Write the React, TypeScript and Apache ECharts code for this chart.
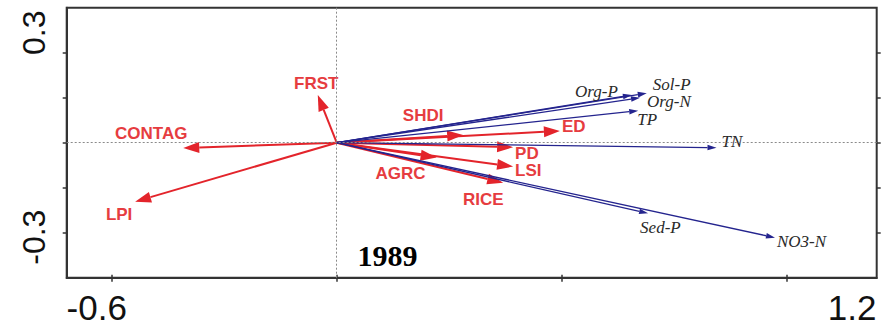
import React, { useEffect, useRef } from 'react';
import * as echarts from 'echarts';

// Landscape metrics (red vectors): biplot scores on the first two RDA axes
const landscapeNames = ['FRST', 'CONTAG', 'LPI', 'SHDI', 'ED', 'PD', 'LSI', 'AGRC', 'RICE'];
const landscapeX = [-0.042, -0.341, -0.448, 0.281, 0.496, 0.392, 0.392, 0.222, 0.37];
const landscapeY = [0.106, -0.012, -0.131, 0.017, 0.026, -0.01, -0.053, -0.033, -0.089];

// Water quality variables (blue vectors)
const waterNames = ['Org-P', 'Sol-P', 'Org-N', 'TP', 'TN', 'Sed-P', 'NO3-N'];
const waterX = [0.656, 0.689, 0.674, 0.67, 0.844, 0.692, 0.974];
const waterY = [0.106, 0.11, 0.1, 0.071, -0.011, -0.157, -0.211];

// Axes
const xRange = [-0.6, 1.2];
const yRange = [-0.3, 0.3];
const xTickValues = [-0.5, 0, 0.5, 1.0];
const yTickValues = [-0.2, -0.1, 0, 0.1, 0.2];
const xTickLabels = [-0.6, 1.2];
const yTickLabels = [-0.3, 0.3];

const yearLabel = '1989';

// Label placement relative to each arrow tip (pixels)
type Placement = { dx: number; dy: number; align: 'left' | 'center' | 'right' };
const labelPlacement: Record<string, Placement> = {
  FRST: { dx: -1.5, dy: -11.5, align: 'center' },
  CONTAG: { dx: -32, dy: -15, align: 'center' },
  LPI: { dx: -16, dy: 13, align: 'center' },
  SHDI: { dx: -40, dy: -20, align: 'center' },
  ED: { dx: 2, dy: -5, align: 'left' },
  PD: { dx: 2, dy: 6, align: 'left' },
  LSI: { dx: 2, dy: 4, align: 'left' },
  AGRC: { dx: -36, dy: 16, align: 'center' },
  RICE: { dx: -20, dy: 17, align: 'center' },
  'Org-P': { dx: -14, dy: -4, align: 'right' },
  'Sol-P': { dx: 6, dy: -9, align: 'left' },
  'Org-N': { dx: 7, dy: 4, align: 'left' },
  TP: { dx: -1, dy: 9, align: 'left' },
  TN: { dx: 5, dy: -6, align: 'left' },
  'Sed-P': { dx: -8, dy: 14, align: 'left' },
  'NO3-N': { dx: 2, dy: 4, align: 'left' },
};

type ArrowStyle = {
  color: string;
  labelColor: string;
  lineWidth: number;
  headLen: number;
  headHalf: number;
  fontFamily: string;
  fontWeight: string;
  fontStyle: string;
  fontSize: number;
};

const redStyle: ArrowStyle = {
  color: '#e3242b',
  labelColor: '#e63c40',
  lineWidth: 2,
  headLen: 16,
  headHalf: 5.5,
  fontFamily: '"Liberation Sans", Arial, sans-serif',
  fontWeight: 'bold',
  fontStyle: 'normal',
  fontSize: 17,
};

const blueStyle: ArrowStyle = {
  color: '#24248e',
  labelColor: '#2a2a2a',
  lineWidth: 1.3,
  headLen: 9,
  headHalf: 2.8,
  fontFamily: '"Liberation Serif", "Times New Roman", serif',
  fontWeight: 'normal',
  fontStyle: 'italic',
  fontSize: 17,
};

function arrowRenderer(names: string[], s: ArrowStyle) {
  return (params: any, api: any) => {
    const i = params.dataIndex;
    const o = api.coord([0, 0]);
    const t = api.coord([api.value(0), api.value(1)]);
    const dx = t[0] - o[0];
    const dy = t[1] - o[1];
    const len = Math.hypot(dx, dy) || 1;
    const ux = dx / len;
    const uy = dy / len;
    const bx = t[0] - ux * s.headLen;
    const by = t[1] - uy * s.headLen;
    const px = -uy;
    const py = ux;
    const name = names[i];
    const p = labelPlacement[name];
    return {
      type: 'group',
      children: [
        {
          type: 'line',
          shape: { x1: o[0], y1: o[1], x2: bx, y2: by },
          style: { stroke: s.color, lineWidth: s.lineWidth },
        },
        {
          type: 'polygon',
          shape: {
            points: [
              [t[0], t[1]],
              [bx + px * s.headHalf, by + py * s.headHalf],
              [bx - px * s.headHalf, by - py * s.headHalf],
            ],
          },
          style: { fill: s.color },
        },
        {
          type: 'text',
          x: t[0] + p.dx,
          y: t[1] + p.dy,
          style: {
            text: name,
            align: p.align,
            verticalAlign: 'middle',
            fill: s.labelColor,
            fontSize: s.fontSize,
            fontFamily: s.fontFamily,
            fontWeight: s.fontWeight,
            fontStyle: s.fontStyle,
          },
        },
      ],
    };
  };
}

const axisColor = '#333';
const labelFont = '"Liberation Sans", Arial, sans-serif';

export default function App() {
  const ref = useRef<HTMLDivElement>(null);

  useEffect(() => {
    if (!ref.current) return;
    const chart = echarts.init(ref.current, null, { renderer: 'svg' });

    const landscapeData = landscapeX.map((x, i) => [x, landscapeY[i]]);
    const waterData = waterX.map((x, i) => [x, waterY[i]]);

    const gridLeft = 66.7;
    const gridRight = 13.3;
    const gridTop = 7.7;
    const gridBottom = 49.3;
    const gridW = 890 - gridLeft - gridRight;
    const gridH = 327 - gridTop - gridBottom;

    chart.setOption({
      animation: false,
      backgroundColor: '#fff',
      grid: {
        left: gridLeft,
        right: gridRight,
        top: gridTop,
        bottom: gridBottom,
        show: true,
        borderColor: axisColor,
        borderWidth: 2,
        backgroundColor: 'transparent',
      },
      xAxis: [
        {
          type: 'value',
          min: xRange[0],
          max: xRange[1],
          position: 'bottom',
          axisLine: { show: true, onZero: false, lineStyle: { color: axisColor, width: 2 } },
          axisTick: {
            show: true,
            customValues: xTickValues,
            length: 4,
            lineStyle: { color: axisColor, width: 1.5 },
          },
          axisLabel: {
            customValues: xTickLabels,
            margin: 12,
            formatter: (v: number) => (v < 0 ? `{l|${v}}` : `{r|${v}}`),
            rich: {
              l: { fontSize: 35, fontFamily: labelFont, color: '#111', padding: [0, 0, 0, 60] },
              r: { fontSize: 35, fontFamily: labelFont, color: '#111', padding: [0, 49, 0, 0] },
            },
          },
          splitLine: { show: false },
        },
        {
          type: 'value',
          min: xRange[0],
          max: xRange[1],
          position: 'top',
          offset: -gridH,
          axisLine: { show: false },
          axisTick: {
            show: true,
            inside: false,
            customValues: xTickValues,
            length: 3,
            lineStyle: { color: axisColor, width: 1.5 },
          },
          axisLabel: { show: false },
          splitLine: { show: false },
        },
      ],
      yAxis: [
        {
          type: 'value',
          min: yRange[0],
          max: yRange[1],
          position: 'left',
          axisLine: { show: true, onZero: false, lineStyle: { color: axisColor, width: 2 } },
          axisTick: {
            show: true,
            customValues: yTickValues,
            length: 4,
            lineStyle: { color: axisColor, width: 1.5 },
          },
          axisLabel: {
            customValues: yTickLabels,
            rotate: 90,
            margin: 17,
            formatter: (v: number) => (v > 0 ? `{t|${v}}` : `{b|${v}}`),
            rich: {
              t: { fontSize: 32, fontFamily: labelFont, color: '#111', padding: [0, 50, 0, 0] },
              b: { fontSize: 32, fontFamily: labelFont, color: '#111', padding: [0, 0, 0, 81] },
            },
          },
          splitLine: { show: false },
        },
        {
          type: 'value',
          min: yRange[0],
          max: yRange[1],
          position: 'right',
          offset: -gridW,
          axisLine: { show: false },
          axisTick: {
            show: true,
            inside: false,
            customValues: yTickValues,
            length: 4,
            lineStyle: { color: axisColor, width: 1.5 },
          },
          axisLabel: { show: false },
          splitLine: { show: false },
        },
      ],
      graphic: [
        {
          type: 'text',
          x: 387.5,
          y: 255,
          style: {
            text: yearLabel,
            align: 'center',
            verticalAlign: 'middle',
            fill: '#000',
            fontSize: 30,
            fontWeight: 'bold',
            fontFamily: '"Liberation Serif", "Times New Roman", serif',
          },
        },
      ],
      series: [
        {
          type: 'line',
          data: [],
          silent: true,
          z: 1,
          markLine: {
            silent: true,
            symbol: 'none',
            label: { show: false },
            lineStyle: { color: '#8a8a8a', type: [2, 2], width: 1 },
            data: [{ xAxis: 0 }, { yAxis: 0 }],
          },
        },
        {
          type: 'custom',
          name: 'landscape',
          coordinateSystem: 'cartesian2d',
          renderItem: arrowRenderer(landscapeNames, redStyle),
          data: landscapeData,
          clip: false,
          silent: true,
          z: 3,
        },
        {
          type: 'custom',
          name: 'water',
          coordinateSystem: 'cartesian2d',
          renderItem: arrowRenderer(waterNames, blueStyle),
          data: waterData,
          clip: false,
          silent: true,
          z: 4,
        },
      ],
    });

    return () => chart.dispose();
  }, []);

  return (
    <div
      ref={ref}
      style={{ position: 'fixed', left: 0, top: 0, width: 890, height: 327, background: '#fff' }}
    />
  );
}
